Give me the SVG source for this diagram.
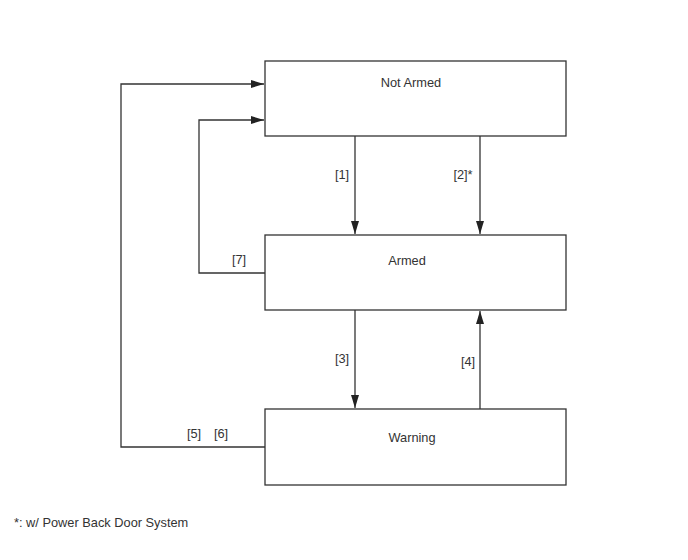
<svg xmlns="http://www.w3.org/2000/svg" width="688" height="560" viewBox="0 0 688 560">
<style>
.box{fill:#fff;stroke:#333;stroke-width:1.3}
.ln{fill:none;stroke:#333;stroke-width:1.3}
text{font-family:"Liberation Sans",Arial,sans-serif;font-size:12.8px;fill:#333}
.c{text-anchor:middle}
</style>
<defs>
<marker id="ah" viewBox="0 0 13 10" refX="13" refY="5" markerWidth="13" markerHeight="10" markerUnits="userSpaceOnUse" orient="auto">
<path d="M0,1 L13,5 L0,9 Z" fill="#222"/>
</marker>
</defs>
<rect width="688" height="560" fill="#fff"/>
<g id="connectors">
<line class="ln" x1="355" y1="136" x2="355" y2="234" marker-end="url(#ah)"/>
<line class="ln" x1="480" y1="136" x2="480" y2="234" marker-end="url(#ah)"/>
<line class="ln" x1="355" y1="310" x2="355" y2="408" marker-end="url(#ah)"/>
<line class="ln" x1="480" y1="409" x2="480" y2="311" marker-end="url(#ah)"/>
<polyline class="ln" points="265,447 121,447 121,84 264,84" marker-end="url(#ah)"/>
<polyline class="ln" points="265,273 199,273 199,120 264,120" marker-end="url(#ah)"/>
<text x="342" y="179" class="c">[1]</text>
<text x="463" y="179" class="c">[2]*</text>
<text x="239" y="264" class="c">[7]</text>
<text x="342" y="363" class="c">[3]</text>
<text x="468" y="366" class="c">[4]</text>
<text x="194" y="438" class="c">[5]</text>
<text x="221" y="438" class="c">[6]</text>
</g>
<g id="not-armed">
<rect class="box" x="265" y="61" width="301" height="75"/>
<text x="411" y="87" class="c">Not Armed</text>
</g>
<g id="armed">
<rect class="box" x="265" y="235" width="301" height="75"/>
<text x="407" y="265" class="c">Armed</text>
</g>
<g id="warning">
<rect class="box" x="265" y="409" width="301" height="76"/>
<text x="412" y="442" class="c">Warning</text>
</g>
<text x="14" y="527">*: w/ Power Back Door System</text>
</svg>
